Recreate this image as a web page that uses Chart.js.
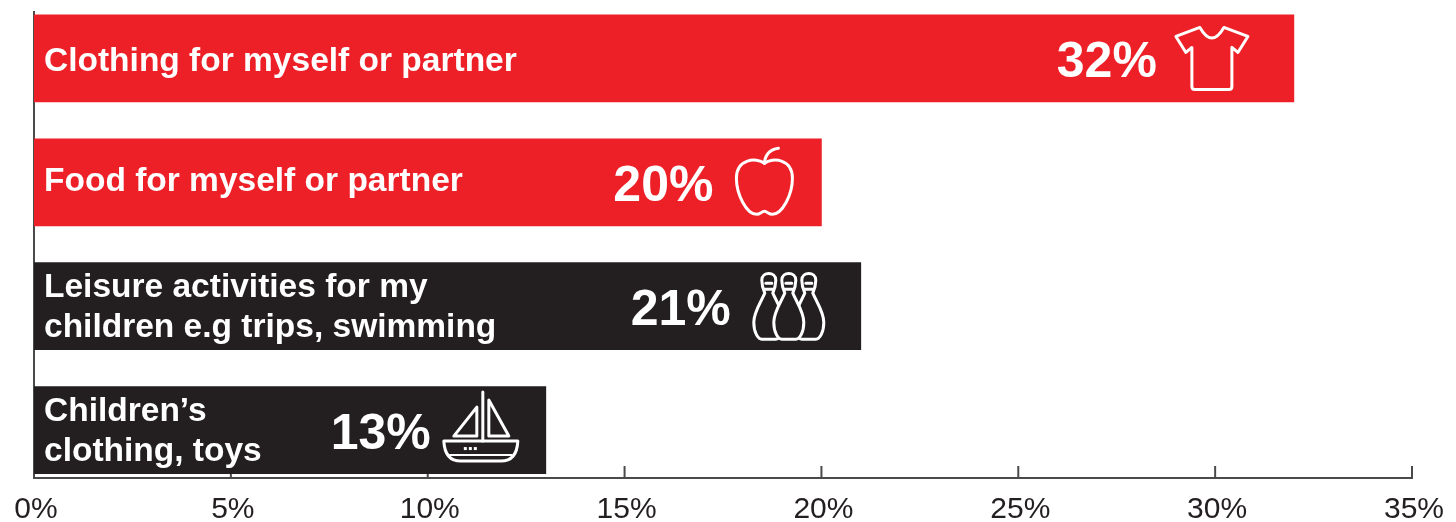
<!DOCTYPE html>
<html><head><meta charset="utf-8">
<style>html,body{margin:0;padding:0;background:#fff}canvas{display:block;filter:blur(.5px)}</style>
<script src="https://cdn.jsdelivr.net/npm/chart.js@4"></script>
</head><body><canvas id="c" width="1456" height="522"></canvas>
<script>
const categories = [
  ["Clothing for myself or partner"],
  ["Food for myself or partner"],
  ["Leisure activities for my", "children e.g trips, swimming"],
  ["Children’s", "clothing, toys"]
];
const shares = [32, 20, 21, 13];
const groups = ["adult", "adult", "child", "child"];
const xTicks = [0, 5, 10, 15, 20, 25, 30, 35];

const COLORS = {adult: "#ED2028", child: "#231F20"};
const FONT = '"Liberation Sans", Arial, sans-serif';

const icons = [
  {dx: -82, valueDx: -137, labelDy: 3, draw(c) { // shirt
    c.beginPath();
    c.moveTo(-12,-31); c.quadraticCurveTo(0,-10,12,-31);
    c.lineTo(36,-22); c.lineTo(26,-6); c.lineTo(20,-11);
    c.lineTo(20,28); c.quadraticCurveTo(20,31,17,31);
    c.lineTo(-17,31); c.quadraticCurveTo(-20,31,-20,28);
    c.lineTo(-20,-11); c.lineTo(-26,-6); c.lineTo(-36,-22);
    c.closePath(); c.stroke();
  }},
  {dx: -57, valueDx: -108, labelDy: -1, draw(c) { // apple
    c.beginPath();
    c.moveTo(0,-19);
    c.bezierCurveTo(8,-25,28,-24,28,-4);
    c.bezierCurveTo(28,12,18,32,8,32);
    c.bezierCurveTo(4,32,3,29,0,29);
    c.bezierCurveTo(-3,29,-4,32,-8,32);
    c.bezierCurveTo(-18,32,-28,12,-28,-4);
    c.bezierCurveTo(-28,-24,-8,-25,0,-19);
    c.stroke();
    c.beginPath(); c.moveTo(0,-19); c.quadraticCurveTo(1,-32,14,-34); c.stroke();
  }},
  {dx: -72, valueDx: -130, labelDy: 2, draw(c, fill) { // bowling pins
    const pin = (x) => {
      c.beginPath();
      c.moveTo(x-4,-13);
      c.bezierCurveTo(x-7,-20,x-7,-24,x-7,-26);
      c.bezierCurveTo(x-7,-35,x+7,-35,x+7,-26);
      c.bezierCurveTo(x+7,-24,x+7,-20,x+4,-13);
      c.bezierCurveTo(x+8,-4,x+15,6,x+15,16);
      c.bezierCurveTo(x+15,26,x+11,33,x+7,33);
      c.lineTo(x-7,33);
      c.bezierCurveTo(x-11,33,x-15,26,x-15,16);
      c.bezierCurveTo(x-15,6,x-8,-4,x-4,-13);
      c.closePath(); c.fill(); c.stroke();
      c.beginPath(); c.moveTo(x-3,-23); c.lineTo(x+3,-23); c.moveTo(x-4,-17); c.lineTo(x+4,-17); c.stroke();
    };
    c.fillStyle = fill;
    pin(-20); pin(20); pin(0);
  }},
  {dx: -65, valueDx: -115, labelDy: 2, draw(c) { // boat
    c.beginPath(); c.moveTo(2,-38); c.lineTo(2,11); c.stroke();
    c.beginPath(); c.moveTo(8,-30); c.lineTo(28,6); c.lineTo(8,6); c.closePath(); c.stroke();
    c.beginPath(); c.moveTo(-4,-23); c.lineTo(-27,6); c.lineTo(-4,6); c.closePath(); c.stroke();
    c.beginPath(); c.moveTo(-37,11); c.lineTo(37,11); c.quadraticCurveTo(36,31,20,31);
    c.lineTo(-20,31); c.quadraticCurveTo(-36,31,-37,11); c.closePath(); c.stroke();
    c.beginPath(); c.moveTo(-31,25); c.lineTo(31,25); c.lineWidth = 2; c.stroke();
    c.fillStyle = "#fff";
    [-17,-12,-7].forEach(x => c.fillRect(x,17,3,3));
  }}
];

const axisTicks = {
  id: "axisTicks",
  beforeDatasetsDraw(ch) {
    const c = ch.ctx, s = ch.scales.x, a = ch.chartArea;
    c.save(); c.strokeStyle = "#4a4a4a"; c.lineWidth = 2;
    xTicks.slice(1).forEach(v => {
      const x = s.getPixelForValue(v);
      c.beginPath(); c.moveTo(x, a.bottom - 12); c.lineTo(x, a.bottom); c.stroke();
    });
    c.restore();
  }
};

const barLabels = {
  id: "barLabels",
  afterDatasetsDraw(ch) {
    const c = ch.ctx, bars = ch.getDatasetMeta(0).data;
    bars.forEach((b, i) => {
      const ic = icons[i];
      c.save();
      c.fillStyle = "#fff"; c.textBaseline = "middle"; c.textAlign = "left";
      c.font = "bold 33.5px " + FONT;
      const lines = categories[i];
      lines.forEach((t, j) => {
        const y = b.y + ic.labelDy + (lines.length === 1 ? 0 : (j - 0.5) * 40);
        c.fillText(t, ch.scales.x.getPixelForValue(0) + 10, y);
      });
      c.font = "bold 50px " + FONT; c.textAlign = "right";
      c.fillText(shares[i] + "%", b.x + ic.valueDx, b.y + 5);
      c.translate(b.x + ic.dx, b.y);
      c.strokeStyle = "#fff"; c.lineWidth = 3; c.lineJoin = "round"; c.lineCap = "round";
      ic.draw(c, COLORS[groups[i]]);
      c.restore();
    });
  }
};

new Chart(document.getElementById("c"), {
  type: "bar",
  data: {datasets: [{
    data: shares.map((v, i) => ({x: v, y: i})),
    backgroundColor: groups.map(g => COLORS[g]),
    borderWidth: 0,
    barThickness: 87
  }]},
  options: {
    indexAxis: "y", responsive: false, animation: false, devicePixelRatio: 1,
    layout: {padding: {left: 34, right: 44, top: 12, bottom: 0}},
    plugins: {legend: {display: false}, tooltip: {enabled: false}},
    scales: {
      x: {
        type: "linear", min: 0, max: 35,
        grid: {display: false},
        border: {color: "#4a4a4a", width: 2},
        afterBuildTicks(s) { s.ticks = xTicks.map(v => ({value: v})); },
        afterFit(s) { s.height = 44; },
        ticks: {
          autoSkip: false, maxRotation: 0, padding: 6, labelOffset: 2,
          color: "#231F20", font: {family: FONT, size: 30},
          callback: v => v + "%"
        }
      },
      y: {
        type: "linear", reverse: true, min: -0.375, max: 3.387, offset: false,
        grid: {display: false},
        border: {color: "#4a4a4a", width: 2},
        ticks: {display: false},
        afterFit(s) { s.width = 0; }
      }
    }
  },
  plugins: [axisTicks, barLabels]
});
</script></body></html>
